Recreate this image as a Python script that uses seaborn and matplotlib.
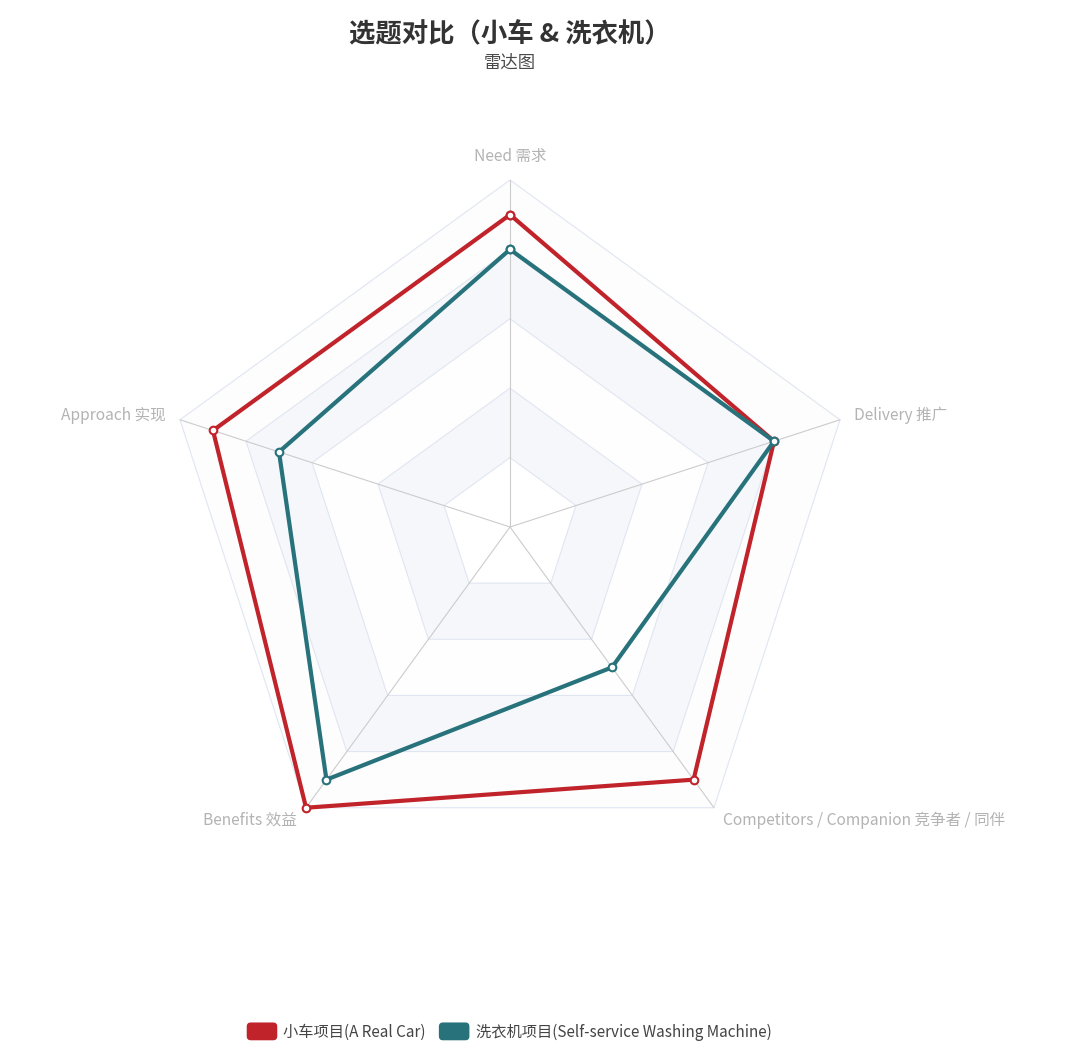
import numpy as np
import pandas as pd
import matplotlib
matplotlib.use("Agg")
import matplotlib.pyplot as plt
import seaborn as sns
from matplotlib.patches import Patch, FancyBboxPatch
from matplotlib.legend_handler import HandlerPatch

# data
indicators = ['Need 需求', 'Delivery 推广', 'Competitors / Companion 竞争者 / 同伴',
              'Benefits 效益', 'Approach 实现']
car_values = [9, 8, 9, 10, 9]
washer_values = [8, 8, 5, 9, 7]
series_names = ['小车项目(A Real Car)', '洗衣机项目(Self-service Washing Machine)']
max_value = 10
split_number = 5

colors = ['#c1232b', '#27727b']

sns.set_theme(style="white")
plt.rcParams['font.family'] = ['Noto Sans CJK SC', 'DejaVu Sans']

W, H = 1067, 1056
fig = plt.figure(figsize=(W / 100, H / 100), dpi=100)
ax = fig.add_axes([0, 0, 1, 1])
ax.set_axis_off()

# radar centre / radius in pixels, mapped to data units
cx, cy, R_px = 510, 527, 347
s = R_px / max_value
ax.set_xlim(-cx / s, (W - cx) / s)
ax.set_ylim(-(H - cy) / s, cy / s)
ax.set_aspect('equal')

n = len(indicators)
angles = np.deg2rad(90 - 72 * np.arange(n))
ux, uy = np.cos(angles), np.sin(angles)


def to_xy(vals):
    v = np.asarray(vals, dtype=float)
    x = np.append(v * ux, v[0] * ux[0])
    y = np.append(v * uy, v[0] * uy[0])
    return x, y


# split areas (outer first)
ring_colors = ['#ffffff', '#f5f7fb', '#fefefe', '#f5f7fb', '#fdfdfd']
for k in range(split_number, 0, -1):
    r = max_value * k / split_number
    x, y = to_xy([r] * n)
    ax.fill(x, y, color=ring_colors[k - 1], zorder=0, lw=0)
    ax.plot(x, y, color='#e0e6f1', lw=0.8, zorder=1)

# axis lines
for i in range(n):
    ax.plot([0, max_value * ux[i]], [0, max_value * uy[i]], color='#cccccc', lw=0.8, zorder=1)

# axis names
gap = 15 / s
for i, name in enumerate(indicators):
    px = (max_value + gap) * ux[i]
    py = (max_value + gap) * uy[i]
    if abs(ux[i]) < 1e-6:
        ha, va = 'center', 'bottom'
    elif ux[i] > 0:
        ha, va = 'left', 'center'
    else:
        ha, va = 'right', 'center'
    ax.text(px, py, name, ha=ha, va=va, fontsize=11.2, color='#b3b3b3', zorder=5)

# series
for vals, name, c in zip([car_values, washer_values], series_names, colors):
    x, y = to_xy(vals)
    df = pd.DataFrame({'x': x, 'y': y})
    sns.lineplot(data=df, x='x', y='y', sort=False, estimator=None, ax=ax, color=c,
                 lw=3, marker='o', markerfacecolor='white', markeredgecolor=c,
                 markeredgewidth=1.5, markersize=5.5, legend=False, zorder=3)
ax.set_xlabel('')
ax.set_ylabel('')
ax.set_axis_off()

# title
fig.text(cx / W, 1 - 35 / H, '选题对比（小车 & 洗衣机）', ha='center', va='center',
         fontsize=19, fontweight='bold', color='#333333')
fig.text(cx / W, 1 - 63 / H, '雷达图', ha='center', va='center', fontsize=12.5, color='#4a4a4a')


class RoundBox(HandlerPatch):
    def create_artists(self, legend, orig_handle, xdescent, ydescent, width, height, fontsize, trans):
        p = FancyBboxPatch((-xdescent, -ydescent - 1.5), width, height + 3,
                           boxstyle='round,pad=0,rounding_size=%f' % (height * 0.3),
                           fc=orig_handle.get_facecolor(), ec='none', transform=trans)
        return [p]


handles = [Patch(facecolor=c) for c in colors]
leg = fig.legend(handles, series_names, loc='center', bbox_to_anchor=(509 / W, 1 - 1032 / H),
                 ncol=2, frameon=False, fontsize=11, handlelength=2.0, handleheight=1.0,
                 handletextpad=0.4, columnspacing=0.85,
                 handler_map={Patch: RoundBox()})
for t in leg.get_texts():
    t.set_color('#444444')

fig.savefig('out.png', dpi=100)
